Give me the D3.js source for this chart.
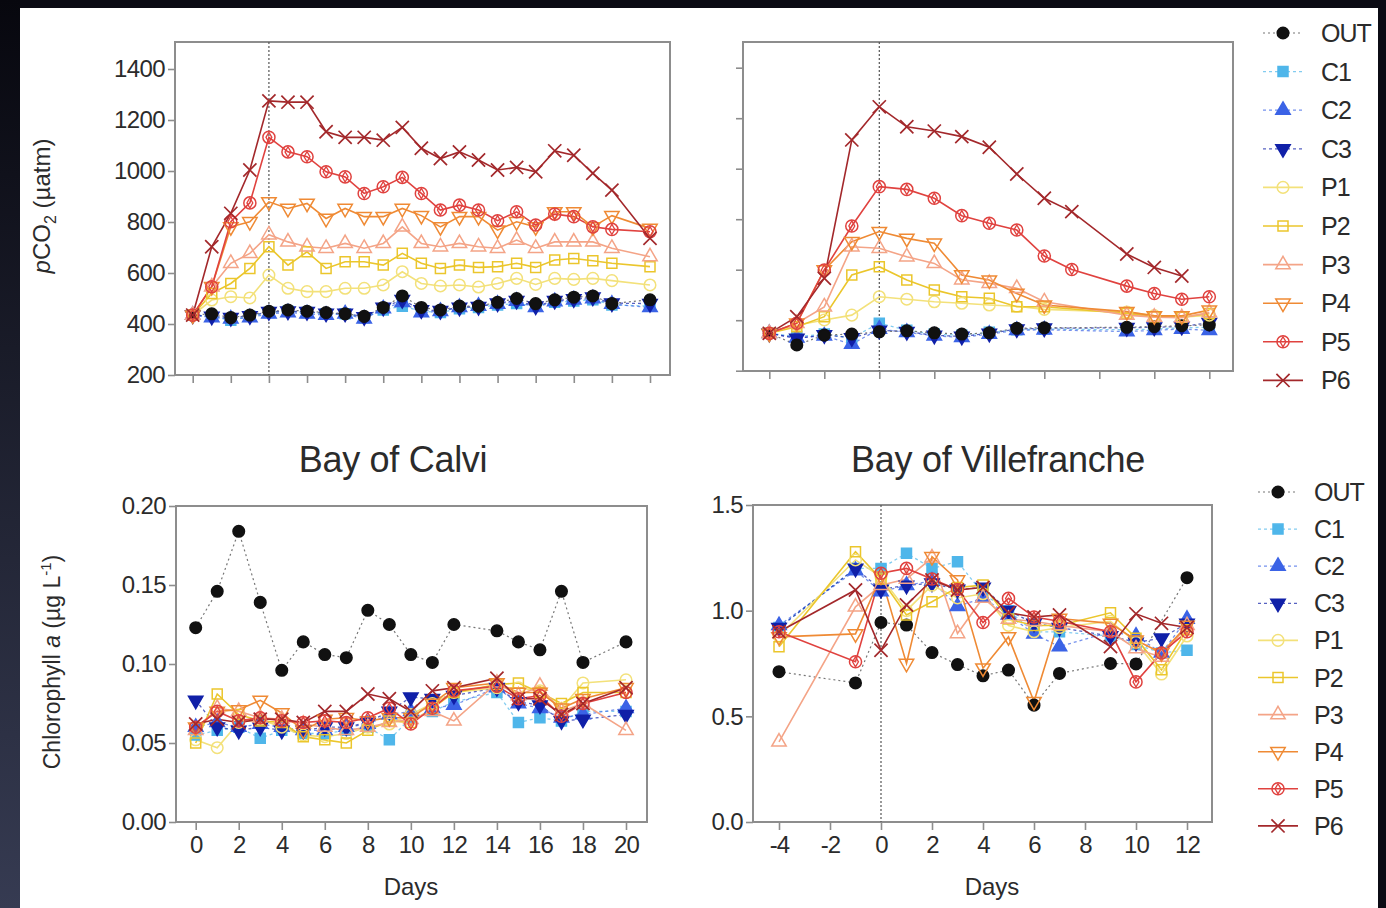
<!DOCTYPE html>
<html>
<head>
<meta charset="utf-8">
<script src="https://cdn.jsdelivr.net/npm/d3@7"></script>
<style>
  body { margin: 0; background: #0b0b12; overflow: hidden; }
  text { font-family: "Liberation Sans", Arial, sans-serif; fill: #2b2b2b; }
</style>
</head>
<body>
<svg id="fig" width="1386" height="908"></svg>
<script>
// ---- series definitions ----
const SERIES = ["OUT", "C1", "C2", "C3", "P1", "P2", "P3", "P4", "P5", "P6"];
const COLORS = ["#111111", "#4fb6ea", "#3b63e6", "#1020a8", "#f3e17a", "#ebc62c", "#f4a487", "#ef8a34", "#e0423f", "#a3282b"];
const SHAPES = ["circle", "square", "triangle", "down", "circle", "square", "triangle", "down", "target", "x"];

// ---- Bay of Calvi, pCO2 (µatm) ----
const calviPco2Days = [-4, -3, -2, -1, 0, 1, 2, 3, 4, 5, 6, 7, 8, 9, 10, 11, 12, 13, 14, 15, 16, 17, 18, 20];
const calviPco2 = [
  [435, 440, 425, 435, 450, 455, 450, 445, 440, 430, 465, 510, 465, 455, 470, 470, 485, 500, 480, 495, 505, 510, 480, 495],
  [435, 430, 415, 430, 445, 450, 445, 440, 440, 425, 455, 470, 450, 445, 460, 465, 475, 480, 470, 485, 490, 495, 475, 470],
  [435, 425, 420, 425, 440, 445, 440, 435, 440, 420, 460, 485, 445, 450, 465, 470, 478, 490, 465, 488, 495, 500, 478, 465],
  [435, 430, 425, 432, 448, 450, 448, 442, 442, 428, 465, 495, 455, 452, 465, 468, 482, 492, 470, 492, 498, 505, 482, 480],
  [435, 494, 507, 502, 592, 540, 527, 527, 540, 540, 553, 605, 559, 549, 553, 545, 559, 579, 555, 579, 575, 579, 570, 553],
  [435, 520, 559, 618, 703, 631, 683, 618, 644, 644, 631, 677, 638, 618, 631, 622, 625, 638, 622, 651, 657, 648, 638, 625],
  [435, 546, 638, 677, 750, 722, 703, 697, 716, 697, 716, 781, 716, 703, 716, 703, 697, 729, 697, 722, 722, 722, 697, 664],
  [435, 546, 781, 801, 879, 853, 873, 814, 853, 821, 821, 853, 825, 781, 821, 821, 768, 801, 781, 840, 840, 781, 825, 775],
  [435, 546, 801, 875, 1132, 1075, 1056, 997, 977, 912, 938, 975, 912, 847, 866, 847, 805, 840, 788, 831, 821, 781, 771, 762],
  [435, 703, 834, 1004, 1275, 1270, 1270, 1154, 1132, 1132, 1121, 1171, 1089, 1049, 1075, 1043, 1004, 1014, 997, 1079, 1062, 991, 925, 736]
];

// ---- Bay of Villefranche, pCO2 (µatm) ----
const villePco2Days = [-4, -3, -2, -1, 0, 1, 2, 3, 4, 5, 6, 7, 9, 10, 11, 12];
const villePco2 = [
  [348, 302, 341, 345, 354, 358, 350, 345, 350, 368, 370, null, 372, 375, 378, 381],
  [348, 335, 345, 330, 388, 360, 345, 340, 352, 362, 365, null, 362, 365, 370, 372],
  [348, 330, 338, 305, 365, 352, 338, 332, 345, 360, 362, null, 355, 360, 365, 360],
  [348, 328, 342, 330, 360, 355, 340, 336, 348, 365, 368, null, 370, 372, 375, 390],
  [348, 380, 401, 420, 493, 483, 473, 467, 460, 455, 443, null, 432, 418, 412, 420],
  [348, 374, 414, 579, 612, 559, 520, 493, 487, 453, 453, null, 427, 414, 412, 427],
  [348, 388, 453, 691, 685, 651, 625, 560, 546, 526, 473, null, 420, 412, 410, 430],
  [348, 388, 599, 711, 751, 724, 705, 579, 559, 506, 460, null, 434, 417, 417, 440],
  [348, 388, 599, 773, 929, 918, 883, 814, 784, 757, 654, 601, 535, 506, 483, 493],
  [348, 414, 566, 1114, 1245, 1166, 1149, 1127, 1085, 979, 883, 830, 662, 609, 575, null]
];

// ---- Bay of Calvi, chlorophyll a (µg/L) ----
const calviChlDays = [0, 1, 2, 3, 4, 5, 6, 7, 8, 9, 10, 11, 12, 14, 15, 16, 17, 18, 20];
const calviChl = [
  [0.123, 0.146, 0.184, 0.139, 0.096, 0.114, 0.106, 0.104, 0.134, 0.125, 0.106, 0.101, 0.125, 0.121, 0.114, 0.109, 0.146, 0.101, 0.114],
  [0.055, 0.058, 0.060, 0.053, 0.058, 0.056, 0.056, 0.058, 0.060, 0.052, 0.066, 0.070, 0.076, 0.082, 0.063, 0.066, 0.064, 0.070, 0.070],
  [0.060, 0.063, 0.060, 0.062, 0.060, 0.058, 0.058, 0.060, 0.062, 0.068, 0.070, 0.072, 0.074, 0.085, 0.075, 0.072, 0.066, 0.068, 0.072],
  [0.077, 0.060, 0.058, 0.060, 0.058, 0.058, 0.060, 0.060, 0.063, 0.070, 0.079, 0.078, 0.080, 0.085, 0.076, 0.074, 0.064, 0.065, 0.068],
  [0.052, 0.047, 0.063, 0.065, 0.060, 0.055, 0.054, 0.056, 0.060, 0.062, 0.068, 0.075, 0.082, 0.085, 0.085, 0.083, 0.072, 0.088, 0.090],
  [0.050, 0.081, 0.068, 0.064, 0.063, 0.054, 0.052, 0.050, 0.058, 0.064, 0.063, 0.072, 0.082, 0.087, 0.088, 0.082, 0.075, 0.082, 0.082],
  [0.058, 0.072, 0.070, 0.066, 0.065, 0.062, 0.060, 0.058, 0.060, 0.063, 0.065, 0.070, 0.064, 0.088, 0.080, 0.086, 0.070, 0.075, 0.058],
  [0.060, 0.070, 0.071, 0.077, 0.069, 0.058, 0.065, 0.066, 0.064, 0.066, 0.066, 0.075, 0.085, 0.088, 0.082, 0.082, 0.072, 0.078, 0.085],
  [0.060, 0.070, 0.064, 0.066, 0.064, 0.063, 0.064, 0.063, 0.066, 0.072, 0.062, 0.072, 0.083, 0.086, 0.078, 0.080, 0.067, 0.075, 0.082],
  [0.062, 0.065, 0.063, 0.065, 0.065, 0.063, 0.070, 0.070, 0.081, 0.078, 0.070, 0.083, 0.085, 0.091, 0.078, 0.078, 0.068, 0.075, 0.085]
];

// ---- Bay of Villefranche, chlorophyll a (µg/L) ----
const villeChlDays = [-4, -1, 0, 1, 2, 3, 4, 5, 6, 7, 9, 10, 11, 12];
const villeChl = [
  [0.711, 0.658, 0.944, 0.932, 0.802, 0.745, 0.692, 0.719, 0.553, 0.703, 0.750, 0.748, null, 1.156],
  [0.92, 1.20, 1.20, 1.272, 1.20, 1.232, 1.08, 1.00, 0.90, 0.90, 0.88, 0.84, 0.80, 0.813],
  [0.93, 1.19, 1.09, 1.12, 1.14, 1.02, 1.06, 0.98, 0.89, 0.83, 0.90, 0.88, 0.80, 0.96],
  [0.92, 1.20, 1.10, 1.12, 1.13, 1.10, 1.11, 1.00, 0.94, 0.92, 0.88, 0.85, 0.87, 0.94],
  [0.88, 1.24, 1.16, 1.00, 1.12, 1.06, 1.08, 0.93, 0.90, 0.92, 0.95, 0.85, 0.70, 0.88],
  [0.829, 1.279, 1.15, 0.98, 1.042, 1.11, 1.121, 0.96, 0.93, 0.93, 0.99, 0.87, 0.72, 0.91],
  [0.379, 1.018, 1.12, 1.15, 1.25, 0.892, 1.06, 0.96, 0.95, 0.93, 0.90, 0.82, 0.78, 0.93],
  [0.876, 0.89, 1.163, 0.75, 1.255, 1.145, 0.728, 0.876, 0.57, 0.963, 0.94, 0.86, 0.80, 0.93],
  [0.90, 0.758, 1.177, 1.20, 1.15, 1.10, 0.944, 1.058, 0.97, 0.95, 0.90, 0.663, 0.80, 0.90],
  [0.90, 1.098, 0.813, 1.027, 1.145, 1.098, 1.11, 0.99, 0.97, 0.98, 0.83, 0.985, 0.94, 0.92]
];

// tick values
const pco2Ticks = [200, 400, 600, 800, 1000, 1200, 1400];
const calviPco2XTicks = d3.range(-4, 21, 2);
const villeXTicks = [-4, -2, 0, 2, 4, 6, 8, 10, 12];
const calviChlXTicks = d3.range(0, 21, 2);
const calviChlYTicks = [0, 0.05, 0.10, 0.15, 0.20];
const villeChlYTicks = [0, 0.5, 1.0, 1.5];

const svg = d3.select("#fig");

// dark photo frame + white page
const grad = svg.append("defs").append("linearGradient")
  .attr("id", "edge").attr("x1", 0).attr("y1", 0).attr("x2", 0).attr("y2", 1);
grad.append("stop").attr("offset", "0%").attr("stop-color", "#07070e");
grad.append("stop").attr("offset", "100%").attr("stop-color", "#363b52");
svg.append("rect").attr("width", 1386).attr("height", 908).attr("fill", "#0b0b14");
svg.append("rect").attr("width", 20).attr("height", 908).attr("fill", "url(#edge)");
svg.append("rect").attr("x", 20).attr("y", 8).attr("width", 1358).attr("height", 900).attr("fill", "#ffffff");

const FRAME = "#8d8d8d";

function marker(g, shape, color, x, y) {
  const filled = ["#111111", "#4fb6ea", "#3b63e6", "#1020a8"].includes(color);
  let sym;
  if (shape === "circle") sym = d3.symbol(d3.symbolCircle, 105);
  else if (shape === "square") sym = d3.symbol(d3.symbolSquare, 100);
  else if (shape === "triangle" || shape === "down") sym = d3.symbol(d3.symbolTriangle, 90);
  else if (shape === "target") sym = d3.symbol(d3.symbolCircle, 115);
  else sym = d3.symbol(d3.symbolTimes, 115);
  g.append("path")
    .attr("d", sym())
    .attr("transform", `translate(${x},${y})` + (shape === "down" ? " rotate(180)" : ""))
    .attr("fill", filled ? color : "none")
    .attr("stroke", color)
    .attr("stroke-width", shape === "x" ? 1.7 : 1.5);
  if (shape === "target") {
    g.append("path")
      .attr("d", d3.symbol(d3.symbolDiamond, 30)())
      .attr("transform", `translate(${x},${y})`)
      .attr("fill", "none").attr("stroke", color).attr("stroke-width", 1.3);
  }
}

function lineStyle(sel, i) {
  const c = COLORS[i];
  if (i === 0) sel.attr("stroke", "#777").attr("stroke-width", 1.2).attr("stroke-dasharray", "2,3");
  else if (i <= 3) sel.attr("stroke", c).attr("stroke-opacity", 0.7).attr("stroke-width", 1.3).attr("stroke-dasharray", "3,3");
  else sel.attr("stroke", c).attr("stroke-width", 1.6);
}

function drawPanel(p) {
  const g = svg.append("g");
  const x = d3.scaleLinear().domain(p.xDom).range(p.xRange);
  const y = d3.scaleLinear().domain(p.yDom).range(p.yRange);

  // y axis ticks
  const ya = g.append("g").attr("transform", `translate(${p.box[0]},0)`)
    .call(d3.axisLeft(y).tickValues(p.yTicks).tickSize(7).tickPadding(3)
      .tickFormat(p.yLabels ? p.yFmt : () => ""));
  // x axis ticks (plain hyphen for negatives, like the original)
  const xa = g.append("g").attr("transform", `translate(0,${p.box[3]})`)
    .call(d3.axisBottom(x).tickValues(p.xTicks).tickSize(8).tickPadding(6)
      .tickFormat(p.xLabels ? d => String(d) : () => ""));
  [ya, xa].forEach(a => {
    a.select(".domain").remove();
    a.selectAll(".tick line").attr("stroke", FRAME).attr("stroke-width", 1.6);
    a.selectAll("text").attr("font-size", 24).attr("fill", "#333");
  });
  ya.selectAll("text").attr("letter-spacing", -0.6);
  xa.selectAll("text").attr("letter-spacing", -0.8);

  // frame
  g.append("rect")
    .attr("x", p.box[0]).attr("y", p.box[1])
    .attr("width", p.box[2] - p.box[0]).attr("height", p.box[3] - p.box[1])
    .attr("fill", "none").attr("stroke", FRAME).attr("stroke-width", 2);

  if (p.zeroLine) {
    g.append("line")
      .attr("x1", x(0)).attr("x2", x(0)).attr("y1", p.box[1]).attr("y2", p.box[3])
      .attr("stroke", "#555").attr("stroke-width", 1.2).attr("stroke-dasharray", "2,2");
  }

  const order = [1, 2, 3, 0, 4, 5, 6, 7, 8, 9];
  const line = d3.line().x(d => x(d.day)).y(d => y(d.v));
  order.forEach(i => {
    const pts = p.days.map((day, k) => ({ day, v: p.values[i][k] })).filter(d => d.v != null);
    g.append("path").datum(pts).attr("d", line).attr("fill", "none").call(lineStyle, i);
  });
  order.forEach(i => {
    const pts = p.days.map((day, k) => ({ day, v: p.values[i][k] })).filter(d => d.v != null);
    pts.forEach(d => marker(g, SHAPES[i], COLORS[i], x(d.day), y(d.v)));
  });
}

drawPanel({
  box: [175, 42, 670, 375], xDom: [-4, 20], xRange: [192.7, 650], yDom: [200, 1400], yRange: [375, 69],
  xTicks: calviPco2XTicks, yTicks: pco2Ticks, xLabels: false, yLabels: true, yFmt: d3.format("d"),
  days: calviPco2Days, values: calviPco2, zeroLine: true
});
drawPanel({
  box: [743, 42, 1233, 371], xDom: [-4, 12], xRange: [769.3, 1209.3], yDom: [200, 1400], yRange: [370.7, 67.7],
  xTicks: villeXTicks, yTicks: pco2Ticks, xLabels: false, yLabels: false,
  days: villePco2Days, values: villePco2, zeroLine: true
});
drawPanel({
  box: [176, 506, 647, 822], xDom: [0, 20], xRange: [195.7, 626], yDom: [0, 0.2], yRange: [822, 506],
  xTicks: calviChlXTicks, yTicks: calviChlYTicks, xLabels: true, yLabels: true, yFmt: d3.format(".2f"),
  days: calviChlDays, values: calviChl, zeroLine: false
});
drawPanel({
  box: [753, 505, 1212, 822], xDom: [-4, 12], xRange: [779, 1187], yDom: [0, 1.5], yRange: [822, 505],
  xTicks: villeXTicks, yTicks: villeChlYTicks, xLabels: true, yLabels: true, yFmt: d3.format(".1f"),
  days: villeChlDays, values: villeChl, zeroLine: true
});

// titles and axis labels
svg.append("text").attr("x", 393).attr("y", 472).attr("text-anchor", "middle")
  .attr("font-size", 36).attr("letter-spacing", -0.3).text("Bay of Calvi");
svg.append("text").attr("x", 998).attr("y", 472).attr("text-anchor", "middle")
  .attr("font-size", 36).attr("letter-spacing", -0.3).text("Bay of Villefranche");
[411, 992].forEach(cx => {
  svg.append("text").attr("x", cx).attr("y", 895).attr("text-anchor", "middle")
    .attr("font-size", 24).text("Days");
});

const yl1 = svg.append("text").attr("transform", "translate(50,206) rotate(-90)")
  .attr("text-anchor", "middle").attr("font-size", 24);
yl1.append("tspan").attr("font-style", "italic").text("p");
yl1.append("tspan").text("CO");
yl1.append("tspan").attr("font-size", 16).attr("dy", 6).text("2");
yl1.append("tspan").attr("dy", -6).text(" (µatm)");

const yl2 = svg.append("text").attr("transform", "translate(60,662) rotate(-90)")
  .attr("text-anchor", "middle").attr("font-size", 23);
yl2.append("tspan").text("Chlorophyll ");
yl2.append("tspan").attr("font-style", "italic").text("a");
yl2.append("tspan").text(" (µg L");
yl2.append("tspan").attr("font-size", 15).attr("dy", -9).text("-1");
yl2.append("tspan").attr("dy", 9).text(")");

// legends
function legend(x0, tx, y0, step) {
  SERIES.forEach((name, i) => {
    const yy = y0 + i * step;
    const g = svg.append("g");
    g.append("line").attr("x1", x0 - 20).attr("x2", x0 + 20).attr("y1", yy).attr("y2", yy)
      .call(lineStyle, i);
    marker(g, SHAPES[i], COLORS[i], x0, yy);
    g.append("text").attr("x", tx).attr("y", yy + 9).attr("font-size", 25)
      .attr("letter-spacing", -1).text(name);
  });
}
legend(1283, 1321, 33, 38.6);
legend(1278, 1314, 492, 37.1);

// right dark edge drawn over the legend text
svg.append("rect").attr("x", 1378).attr("y", 0).attr("width", 8).attr("height", 908).attr("fill", "#0b0b14");
</script>
</body>
</html>
